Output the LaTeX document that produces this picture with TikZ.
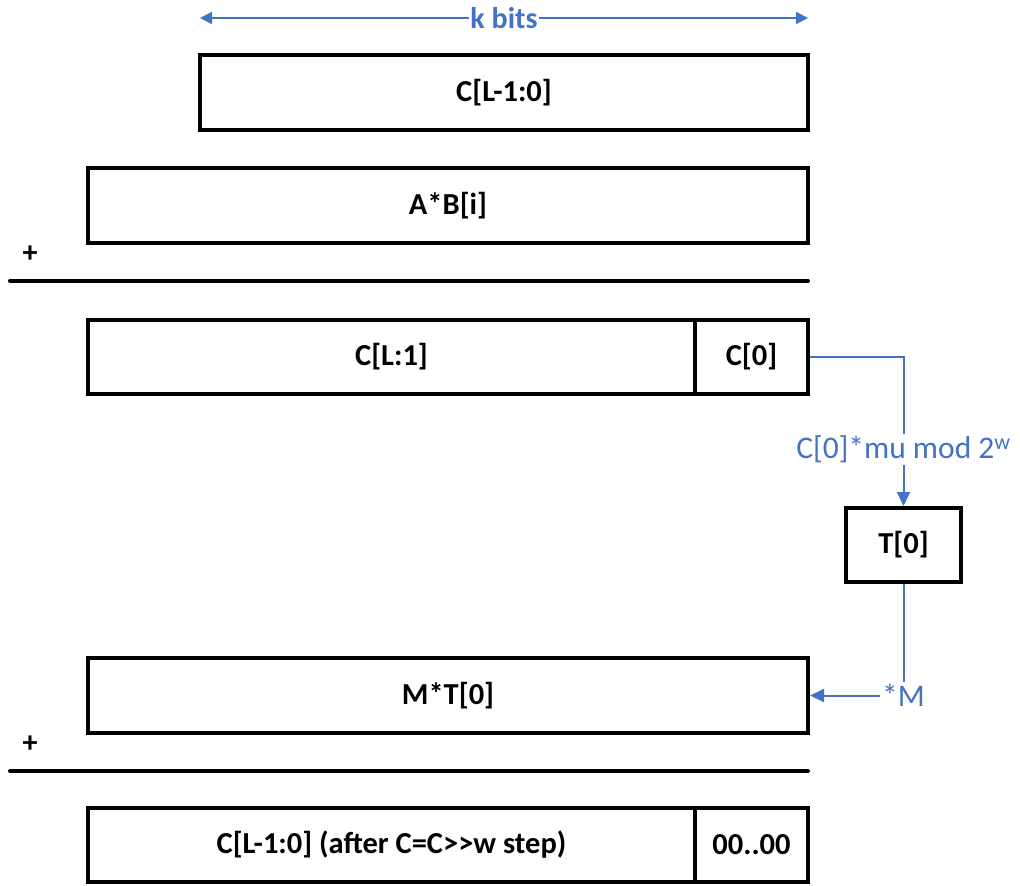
\documentclass[tikz,border=0pt]{standalone}
\usepackage{fontspec}
\setmainfont{Carlito}
\usetikzlibrary{arrows.meta}
\definecolor{blu}{HTML}{4472C4}
\begin{document}
\begin{tikzpicture}[x=1pt,y=-1pt,
  box/.style={draw=black,line width=4pt,minimum height=0pt,inner sep=0pt,font=\fontsize{30.5}{34}\selectfont\bfseries},
  rule/.style={line width=4pt,line cap=round},
  conn/.style={draw=blu,line width=2pt,-{Triangle[length=14pt,width=13pt]}},
  lbl/.style={text=blu,fill=white,inner sep=2pt,font=\fontsize{31.5}{34}\selectfont},
  plus/.style={font=\fontsize{30}{34}\selectfont\bfseries}]
\useasboundingbox (0,0) rectangle (1020,886);
\node[box,minimum width=608pt,minimum height=75pt] (cl) at (504,92.5) {C[L-1:0]};
\node[box,minimum width=720pt,minimum height=75pt] (ab) at (448,205.5) {A*B[i]};
\node[plus] (p1) at (30,254) {+};
\draw[rule] (10,281) -- (808,281);
\node[box,minimum width=607pt,minimum height=74pt] (cl1) at (391.5,357) {C[L:1]};
\node[box,minimum width=113pt,minimum height=74pt] (c0) at (751.5,357) {C[0]};
\node[box,minimum width=115pt,minimum height=74pt] (t0) at (903.5,545) {T[0]};
\node[box,minimum width=720pt,minimum height=75pt] (mt) at (448,695.5) {M*T[0]};
\node[plus] (p2) at (30,744) {+};
\draw[rule] (10,771) -- (808,771);
\node[box,minimum width=607pt,minimum height=74pt] (cf) at (391.5,845) {C[L-1:0] (after C=C>\kern0pt>\kern0pt w step)};
\node[box,minimum width=113pt,minimum height=74pt] (zz) at (751.5,845) {00..00};
% k bits
\coordinate (kl) at (200,18);
\coordinate (kr) at (808,18);
\draw[blu,line width=2pt,{Triangle[length=12pt,width=12pt]}-{Triangle[length=12pt,width=12pt]}] (kl) -- (kr)
  node[midway,fill=white,inner sep=1pt,text=blu,font=\fontsize{30}{34}\selectfont\bfseries] (kb) {k bits};
% connectors
\draw[conn] (c0.east) -| (t0.north) node[lbl,pos=0.81] (lab1) {C[0]*mu mod 2\textsuperscript{w}};
\draw[conn] (t0.south) |- (mt.east) node[lbl,pos=0.5] (lab2) {*M};
\end{tikzpicture}
\end{document}
